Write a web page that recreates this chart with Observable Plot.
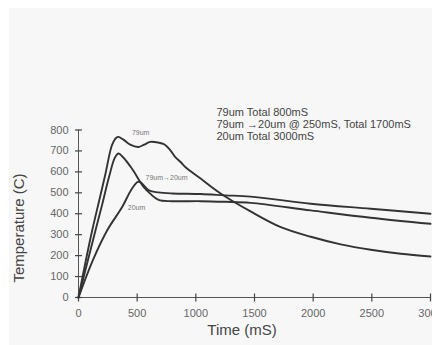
<!DOCTYPE html>
<html>
<head>
<meta charset="utf-8">
<script src="https://cdn.jsdelivr.net/npm/d3@7"></script>
<script src="https://cdn.jsdelivr.net/npm/@observablehq/plot@0.6"></script>
<style>
  html, body { margin: 0; padding: 0; background: #ffffff; }
  #wrap { position: relative; width: 432px; height: 345px; overflow: hidden; background: #ffffff; font-family: 'Liberation Sans', Arial, sans-serif; }
  #bg { position: absolute; left: 9px; top: 8px; right: 0; bottom: 0; background: #f7f7f7; }
  #chart { position: absolute; left: 0; top: 0; }
  #chart svg { display: block; }
  .title { position: absolute; color: #444; font-size: 15px; white-space: nowrap; line-height: 1; }
  #ytitle { left: 18px; top: 228px; transform: translate(-50%, -50%) rotate(-90deg); }
  #xtitle { left: 242px; top: 329px; transform: translate(-50%, -50%); }
</style>
</head>
<body>
<div id="wrap"><div id="bg"></div><div id="chart"></div>
<div class="title" id="ytitle">Temperature (C)</div>
<div class="title" id="xtitle">Time (mS)</div>
</div>
<script>
// Series: 79um Total 800mS
const t79 = [0, 60, 117, 175, 227, 285, 320, 340, 380, 440, 512, 560, 611, 680, 730, 780, 825, 870, 910, 1041, 1211, 1467, 1724, 1980, 2235, 2491, 2747, 3000];
const v79 = [0, 170, 321, 460, 584, 727, 762, 767, 755, 730, 719, 730, 743, 740, 732, 705, 671, 647, 623, 568, 497, 411, 336, 290, 254, 228, 209, 196];
// Series: 79um -> 20um @ 250mS, Total 1700mS
const t7920 = [0, 70, 145, 200, 260, 310, 341, 380, 455, 555, 611, 682, 800, 1041, 1250, 1467, 1980, 2491, 3000];
const v7920 = [0, 155, 321, 440, 575, 668, 688, 670, 616, 528, 496, 466, 460, 460, 457, 452, 416, 381, 352];
// Series: 20um Total 3000mS
const t20 = [0, 120, 245, 372, 450, 505, 530, 600, 680, 800, 1041, 1250, 1467, 1980, 2491, 3000];
const v20 = [0, 175, 321, 432, 515, 552, 550, 512, 502, 497, 494, 488, 482, 448, 424, 400];

const xTicks = [0, 500, 1000, 1500, 2000, 2500, 3000];
const yTicks = [0, 100, 200, 300, 400, 500, 600, 700, 800];
const notes = ["79um Total 800mS", "79um \u219220um @ 250mS, Total 1700mS", "20um Total 3000mS"];
const curveLabels = ["79um", "79um\u219220um", "20um"];
const labelT = [530, 750, 495];
const labelV = [785, 574, 430];

const series = [
  {name: "79um", t: t79, v: v79},
  {name: "79um-20um", t: t7920, v: v7920},
  {name: "20um", t: t20, v: v20}
];
const data = series.flatMap(s => s.t.map((t, i) => ({s: s.name, t, v: s.v[i]})));
const labels = curveLabels.map((label, i) => ({label, t: labelT[i], v: labelV[i]}));

const vTick = {draw(ctx, size) { const r = Math.sqrt(size / Math.PI); ctx.moveTo(0, -r); ctx.lineTo(0, r); }};
const hTick = {draw(ctx, size) { const r = Math.sqrt(size / Math.PI); ctx.moveTo(-r, 0); ctx.lineTo(r, 0); }};

const font = "'Liberation Sans', Arial, sans-serif";
const chart = Plot.plot({
  width: 432,
  height: 345,
  marginLeft: 78,
  marginRight: 2,
  marginTop: 129.5,
  marginBottom: 48,
  style: {background: "transparent", fontFamily: font},
  x: {domain: [0, 3000]},
  y: {domain: [0, 800]},
  marks: [
    Plot.ruleX([0], {stroke: "#555", strokeWidth: 1}),
    Plot.ruleY([0], {stroke: "#555", strokeWidth: 1}),
    Plot.dot(xTicks, {x: d => d, y: 0, symbol: vTick, r: 4, stroke: "#444", strokeWidth: 1.2, fill: "none"}),
    Plot.dot(yTicks, {x: 0, y: d => d, symbol: hTick, r: 3.5, stroke: "#444", strokeWidth: 1.2, fill: "none"}),
    Plot.axisX({ticks: xTicks, tickSize: 0, tickPadding: 12, fontSize: 11, fill: "#666", tickFormat: d => String(d), label: null}),
    Plot.axisY({ticks: yTicks, tickSize: 0, tickPadding: 10, fontSize: 11, fill: "#666", tickFormat: d => String(d), label: null}),
    Plot.line(data, {x: "t", y: "v", z: "s", curve: "catmull-rom", stroke: "#333", strokeWidth: 1.9}),
    Plot.text(labels, {x: "t", y: "v", text: "label", fontSize: 7, fill: "#777"}),
    Plot.text([notes.join("\n")], {frameAnchor: "top-left", dx: 138, dy: -22.5, lineAnchor: "top", textAnchor: "start", lineHeight: 1.09, fontSize: 11, fill: "#444"})
  ]
});
document.getElementById("chart").appendChild(chart);
</script>
</body>
</html>
